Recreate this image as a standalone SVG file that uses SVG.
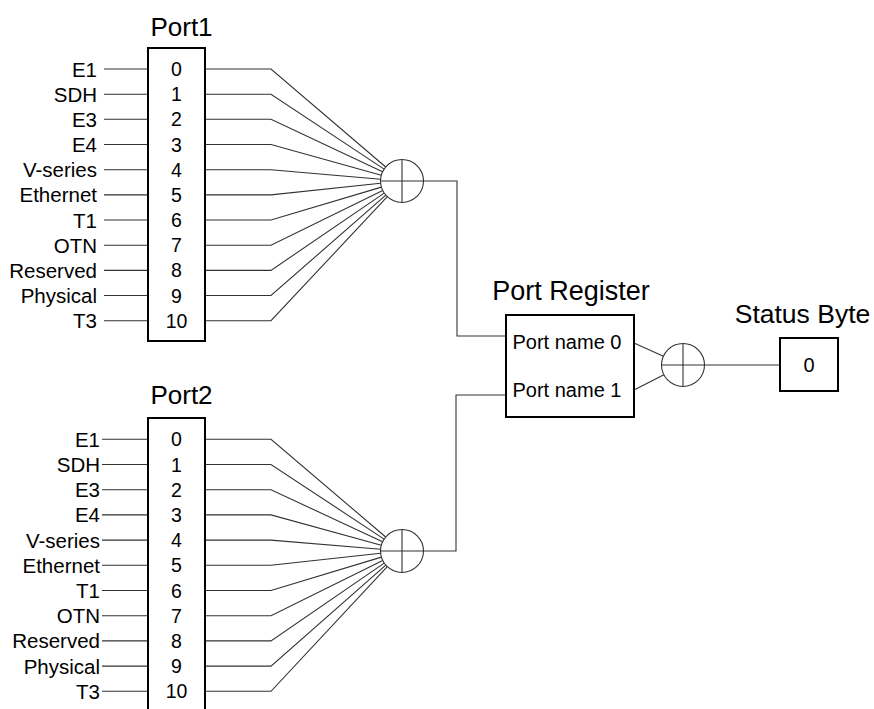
<svg xmlns="http://www.w3.org/2000/svg" width="874" height="709" viewBox="0 0 874 709">
  <style>
    text { font-family: "Liberation Sans", Arial, sans-serif; fill: #000; }
    .title { font-size: 26px; text-anchor: middle; }
    .lbl { font-size: 20.5px; text-anchor: end; }
    .num { font-size: 19.5px; text-anchor: middle; }
    .reg { font-size: 20px; }
    .box { fill: #fff; stroke: #000; stroke-width: 2; }
    .wire { fill: none; stroke: #333; stroke-width: 1.1; }
    .xor { fill: #fff; stroke: #333; stroke-width: 1.1; }
  </style>
  <defs>
    <!-- XOR symbol: circle with a cross -->
    <g id="xorSym">
      <circle class="xor" cx="0" cy="0" r="21.5"/>
      <path class="wire" d="M-21.5 0 H21.5 M0 -21.5 V21.5"/>
    </g>
  </defs>
  <rect width="874" height="709" fill="#fff"/>

  <g id="connectors">
    <!-- Port1 inputs -->
    <path class="wire" d="M104 69 H148 M104 94.2 H148 M104 119.3 H148 M104 144.5 H148 M104 169.7 H148 M104 194.9 H148 M104 220 H148 M104 245.2 H148 M104 270.4 H148 M104 295.5 H148 M104 320.7 H148"/>
    <!-- Port1 fan into the XOR -->
    <path class="wire" d="M206 69 H271 L385.7 167
      M206 94.2 H271 L384.1 169.1
      M206 119.3 H271 L382.6 171.8
      M206 144.5 H271 L381.3 175.2
      M206 169.7 H271 L380.6 179.2
      M206 194.9 H271 L380.6 183.3
      M206 220 H271 L381.4 187.1
      M206 245.2 H271 L382.7 190.5
      M206 270.4 H271 L384.2 193.1
      M206 295.5 H271 L385.8 195.2
      M206 320.7 H271 L387.3 196.7"/>
    <!-- Port2 inputs -->
    <path class="wire" d="M102 439.3 H148 M102 464.5 H148 M102 489.7 H148 M102 514.9 H148 M102 540.1 H148 M102 565.3 H148 M102 590.5 H148 M102 615.7 H148 M102 640.9 H148 M102 666.1 H148 M102 691.3 H148"/>
    <!-- Port2 fan into the XOR -->
    <path class="wire" d="M206 439.3 H271 L385.7 537
      M206 464.5 H271 L384.1 539.1
      M206 489.7 H271 L382.6 541.8
      M206 514.9 H271 L381.3 545.2
      M206 540.1 H271 L380.6 549.2
      M206 565.3 H271 L380.6 553.3
      M206 590.5 H271 L381.4 557.1
      M206 615.7 H271 L382.7 560.5
      M206 640.9 H271 L384.2 563.1
      M206 666.1 H271 L385.8 565.2
      M206 691.3 H271 L387.3 566.7"/>
    <!-- XOR outputs to the register -->
    <path class="wire" d="M423.5 181 H457 V336 H506"/>
    <path class="wire" d="M423.5 551 H456 V395 H506"/>
    <!-- register to final XOR, then status byte -->
    <path class="wire" d="M634 343 L663.4 356.2 M634 390 L663.9 374.8"/>
    <path class="wire" d="M704.5 365 H780"/>
  </g>

  <g id="port1">
    <text class="title" x="181.5" y="36">Port1</text>
    <rect class="box" x="148" y="48" width="57" height="293"/>
    <text class="lbl" x="97" y="76.5">E1</text>
    <text class="lbl" x="97" y="101.7">SDH</text>
    <text class="lbl" x="97" y="126.8">E3</text>
    <text class="lbl" x="97" y="152">E4</text>
    <text class="lbl" x="97" y="177.2">V-series</text>
    <text class="lbl" x="97" y="202.4">Ethernet</text>
    <text class="lbl" x="97" y="227.5">T1</text>
    <text class="lbl" x="97" y="252.7">OTN</text>
    <text class="lbl" x="97" y="277.9">Reserved</text>
    <text class="lbl" x="97" y="303">Physical</text>
    <text class="lbl" x="97" y="328.2">T3</text>
    <text class="num" x="176.5" y="76">0</text>
    <text class="num" x="176.5" y="101.2">1</text>
    <text class="num" x="176.5" y="126.3">2</text>
    <text class="num" x="176.5" y="151.5">3</text>
    <text class="num" x="176.5" y="176.7">4</text>
    <text class="num" x="176.5" y="201.9">5</text>
    <text class="num" x="176.5" y="227">6</text>
    <text class="num" x="176.5" y="252.2">7</text>
    <text class="num" x="176.5" y="277.4">8</text>
    <text class="num" x="176.5" y="302.5">9</text>
    <text class="num" x="176.5" y="327.7">10</text>
  </g>

  <g id="port2">
    <text class="title" x="181.5" y="404">Port2</text>
    <rect class="box" x="148" y="418" width="57" height="300"/>
    <text class="lbl" x="100" y="446.8">E1</text>
    <text class="lbl" x="100" y="472">SDH</text>
    <text class="lbl" x="100" y="497.2">E3</text>
    <text class="lbl" x="100" y="522.4">E4</text>
    <text class="lbl" x="100" y="547.6">V-series</text>
    <text class="lbl" x="100" y="572.8">Ethernet</text>
    <text class="lbl" x="100" y="598">T1</text>
    <text class="lbl" x="100" y="623.2">OTN</text>
    <text class="lbl" x="100" y="648.4">Reserved</text>
    <text class="lbl" x="100" y="673.6">Physical</text>
    <text class="lbl" x="100" y="698.8">T3</text>
    <text class="num" x="176.5" y="446.3">0</text>
    <text class="num" x="176.5" y="471.5">1</text>
    <text class="num" x="176.5" y="496.7">2</text>
    <text class="num" x="176.5" y="521.9">3</text>
    <text class="num" x="176.5" y="547.1">4</text>
    <text class="num" x="176.5" y="572.3">5</text>
    <text class="num" x="176.5" y="597.5">6</text>
    <text class="num" x="176.5" y="622.7">7</text>
    <text class="num" x="176.5" y="647.9">8</text>
    <text class="num" x="176.5" y="673.1">9</text>
    <text class="num" x="176.5" y="698.3">10</text>
  </g>

  <g id="xor1"><use href="#xorSym" x="402" y="181"/></g>
  <g id="xor2"><use href="#xorSym" x="402" y="551"/></g>
  <g id="xor3"><use href="#xorSym" x="683" y="365"/></g>

  <g id="port-register">
    <text class="title" x="571" y="300" style="font-size:27px">Port Register</text>
    <rect class="box" x="506" y="315" width="128" height="102"/>
    <text class="reg" x="512.5" y="349">Port name 0</text>
    <text class="reg" x="512.5" y="396.5">Port name 1</text>
  </g>

  <g id="status-byte">
    <text class="title" x="802.5" y="323" style="font-size:26.5px">Status Byte</text>
    <rect class="box" x="780" y="338" width="58" height="53"/>
    <text class="num" x="809" y="372" style="font-size:20px">0</text>
  </g>
</svg>
